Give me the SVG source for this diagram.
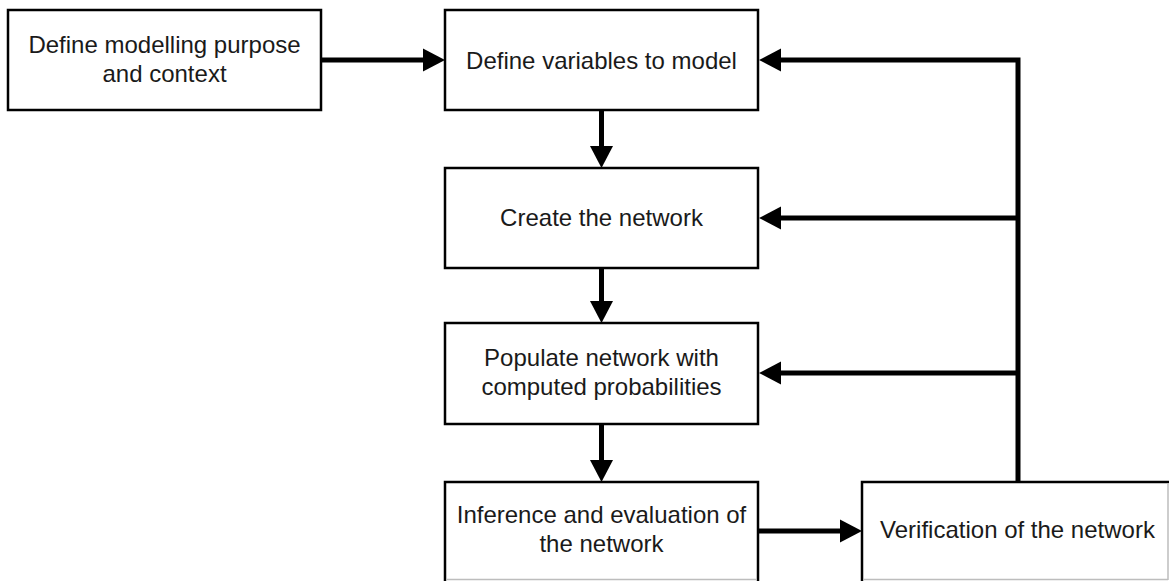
<svg xmlns="http://www.w3.org/2000/svg" width="1169" height="581" viewBox="0 0 1169 581">
  <style>
    .box { fill: #ffffff; stroke: #000000; stroke-width: 2.5; }
    .edge { fill: none; stroke: #000000; stroke-width: 2.5; }
    .faint { fill: none; stroke: #bdbdbd; stroke-width: 1.5; }
    .label { font-family: "Liberation Sans", Arial, sans-serif; font-size: 24px; fill: #1a1a1a; text-anchor: middle; }
    .link { fill: none; stroke: #000000; stroke-width: 5; stroke-linecap: butt; stroke-linejoin: miter; }
  </style>
  <defs>
    <marker id="head" markerUnits="userSpaceOnUse" markerWidth="23" markerHeight="23" refX="0" refY="11.5" orient="auto" overflow="visible">
      <path d="M0,0 L22,11.5 L0,23 Z" fill="#000000"/>
    </marker>
  </defs>

  <rect width="1169" height="581" fill="#ffffff"/>

  <!-- connectors -->
  <g id="connectors">
    <path class="link" d="M321,60 H423" marker-end="url(#head)"/>
    <path class="link" d="M601.5,110 V146" marker-end="url(#head)"/>
    <path class="link" d="M601.5,268 V301" marker-end="url(#head)"/>
    <path class="link" d="M601.5,424 V460" marker-end="url(#head)"/>
    <path class="link" d="M758,531 H840" marker-end="url(#head)"/>
    <!-- feedback trunk from verification back up the chain -->
    <path class="link" d="M1018,483 V60 H781" marker-end="url(#head)"/>
    <path class="link" d="M1018,218 H781" marker-end="url(#head)"/>
    <path class="link" d="M1018,373 H781" marker-end="url(#head)"/>
  </g>

  <g id="purpose">
    <rect class="box" x="8" y="10" width="313" height="100"/>
    <text class="label" x="164.5" y="53">Define modelling purpose</text>
    <text class="label" x="164.5" y="82">and context</text>
  </g>

  <g id="variables">
    <rect class="box" x="445" y="10" width="313" height="100"/>
    <text class="label" x="601.5" y="69">Define variables to model</text>
  </g>

  <g id="create">
    <rect class="box" x="445" y="168" width="313" height="100"/>
    <text class="label" x="601.5" y="226">Create the network</text>
  </g>

  <g id="populate">
    <rect class="box" x="445" y="323" width="313" height="101"/>
    <text class="label" x="601.5" y="366">Populate network with</text>
    <text class="label" x="601.5" y="395">computed probabilities</text>
  </g>

  <g id="inference">
    <rect x="445" y="482" width="313" height="98" fill="#ffffff"/>
    <path class="edge" d="M445,581 V482 H758 V581"/>
    <path class="faint" d="M446,579.5 H757"/>
    <text class="label" x="601.5" y="523">Inference and evaluation of</text>
    <text class="label" x="601.5" y="552">the network</text>
  </g>

  <g id="verification">
    <rect x="862" y="482" width="306" height="98" fill="#ffffff"/>
    <path class="edge" d="M862,581 V482 H1169"/>
    <path class="faint" d="M863,579.5 H1168 M1168,483 V580"/>
    <text class="label" x="1017.5" y="538">Verification of the network</text>
  </g>
</svg>
